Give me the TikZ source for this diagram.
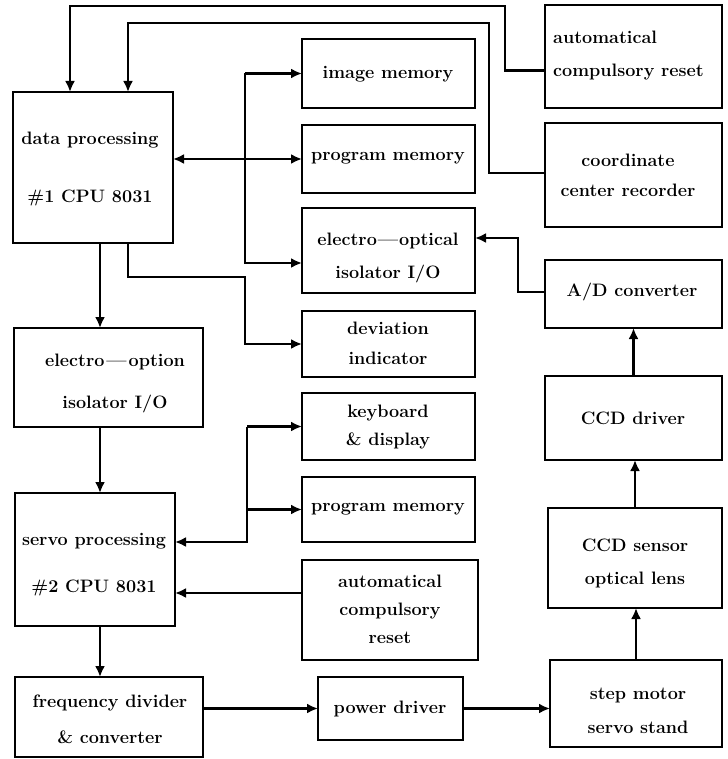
\documentclass[tikz,border=0pt]{standalone}
\usetikzlibrary{arrows.meta}
\begin{document}
\begin{tikzpicture}[x=1pt,y=-1pt,
  box/.style={draw,line width=2.8pt,inner sep=0pt,outer sep=0pt},
  lbl/.style={inner sep=0pt,font=\fontsize{18}{21}\selectfont\bfseries,align=center},
  arr/.style={line width=2.8pt,-{Latex[length=11pt,width=10pt]}},
  darr/.style={line width=2.8pt,{Latex[length=11pt,width=10pt]}-{Latex[length=11pt,width=10pt]}}]
\useasboundingbox (0,0) rectangle (727,759);
\newcommand\bx[5]{\node[box,minimum width={(#4-#2)*1pt},minimum height={(#5-#3)*1pt}] (#1) at ({(#2+#4)/2},{(#3+#5)/2}) {};}
% boxes
\bx{dp}{13}{92}{173}{243}
\bx{im}{302}{39}{475}{108}
\bx{pma}{302}{125}{475}{193}
\bx{eo}{302}{208}{475}{293}
\bx{dev}{302}{311}{475}{377}
\bx{kb}{302}{393}{475}{460}
\bx{pmb}{302}{477}{475}{542}
\bx{acrb}{302}{560}{478}{660}
\bx{pd}{318}{677}{463}{740}
\bx{eoi}{14}{328}{203}{427}
\bx{sp}{15}{493}{175}{626}
\bx{fd}{15}{677}{203}{757}
\bx{acra}{545}{5}{722}{108}
\bx{ccr}{545}{123}{722}{227}
\bx{ad}{545}{260}{722}{328}
\bx{cd}{545}{376}{722}{460}
\bx{cs}{548}{508}{722}{608}
\bx{sm}{550}{660}{722}{747}
% texts
\node[lbl] (dpt) at (90,169) {data processing\\[37pt]\#1 CPU 8031};
\node[lbl] (imt) at (388,74) {image memory};
\node[lbl] (pmat) at (388,158) {program memory};
\node[lbl] (eot) at (388,258) {electro\kern1pt—\kern1pt optical\\[12pt]isolator I/O};
\node[lbl] (devt) at (388,343) {deviation\\[9pt]indicator};
\node[lbl] (kbt) at (388,427) {keyboard\\[7pt]\& display};
\node[lbl] (pmbt) at (388,509) {program memory};
\node[lbl] (acrbt) at (390,609) {automatical\\[7pt]compulsory\\[7pt]reset};
\node[lbl] (pdt) at (390,709) {power driver};
\node[lbl] (eoit) at (115,384) {electro\kern2pt—\kern2pt option\\[21pt]isolator I/O};
\node[lbl] (spt) at (94,565) {servo processing\\[26pt]\#2 CPU 8031};
\node[lbl] (fdt) at (110,719) {frequency divider\\[15pt]\& converter};
\node[lbl,anchor=west,align=left] (acrat) at (553,56) {automatical\\[12pt]compulsory reset};
\node[lbl] (ccrt) at (628,175) {coordinate\\[9pt]center recorder};
\node[lbl] (adt) at (632,292) {A/D converter};
\node[lbl] (cdt) at (633,418) {CCD driver};
\node[lbl] (cst) at (635,563) {CCD sensor\\[12pt]optical lens};
\node[lbl] (smt) at (638,711) {step motor\\[13pt]servo stand};
% helper coordinates
\coordinate (ra) at (505,6);
\coordinate (rb) at (489,23);
\coordinate (bx) at (245,0);
\coordinate (by) at (247,0);
\coordinate (adx) at (518,0);
\coordinate (eoR) at ([yshift=12.5pt]eo.east);
\coordinate (eoL) at ([yshift=-12.5pt]eo.west);
\coordinate (spR) at ([yshift=17.5pt]sp.east);
% connectors
\draw[arr] ([yshift=-14pt]acra.west) -| (ra) -| ([xshift=-23pt]dp.north);
\draw[arr] ([yshift=2pt]ccr.west) -| (rb) -| ([xshift=35pt]dp.north);
\draw[darr] (dp.east |- pma.west) -- (pma.west);
\draw[arr] (bx |- im.west) -- (im.west);
\draw[arr] (bx |- im.west) |- (eoL);
\draw[arr] ([xshift=7pt]dp.south) -- ([xshift=7pt]dp.south |- eoi.north);
\draw[arr] ([xshift=35pt]dp.south) |- (bx |- 0,277) |- (dev.west);
\draw[arr] ([xshift=7pt]dp.south |- eoi.south) -- ([xshift=7pt]dp.south |- sp.north);
\draw[arr] (by |- kb.west) -- (kb.west);
\draw[arr] (by |- kb.west) |- (spR);
\draw[arr] (by |- pmb.west) -- (pmb.west);
\draw[arr] ([yshift=17pt]acrb.west) -- ([yshift=17pt]acrb.west -| sp.east);
\draw[arr] ([xshift=7pt]dp.south |- sp.south) -- ([xshift=7pt]dp.south |- fd.north);
\draw[arr] (fd.east |- pd.west) -- (pd.west);
\draw[arr] (pd.east) -- (pd.east -| sm.west);
\draw[arr] (sm.north) -- (sm.north |- cs.south);
\draw[arr] (cs.north) -- (cs.north |- cd.south);
\draw[arr] (cd.north) -- (cd.north |- ad.south);
\draw[arr] ([yshift=2pt]ad.west) -| (adx |- eoR) -- (eoR);
\end{tikzpicture}
\end{document}
